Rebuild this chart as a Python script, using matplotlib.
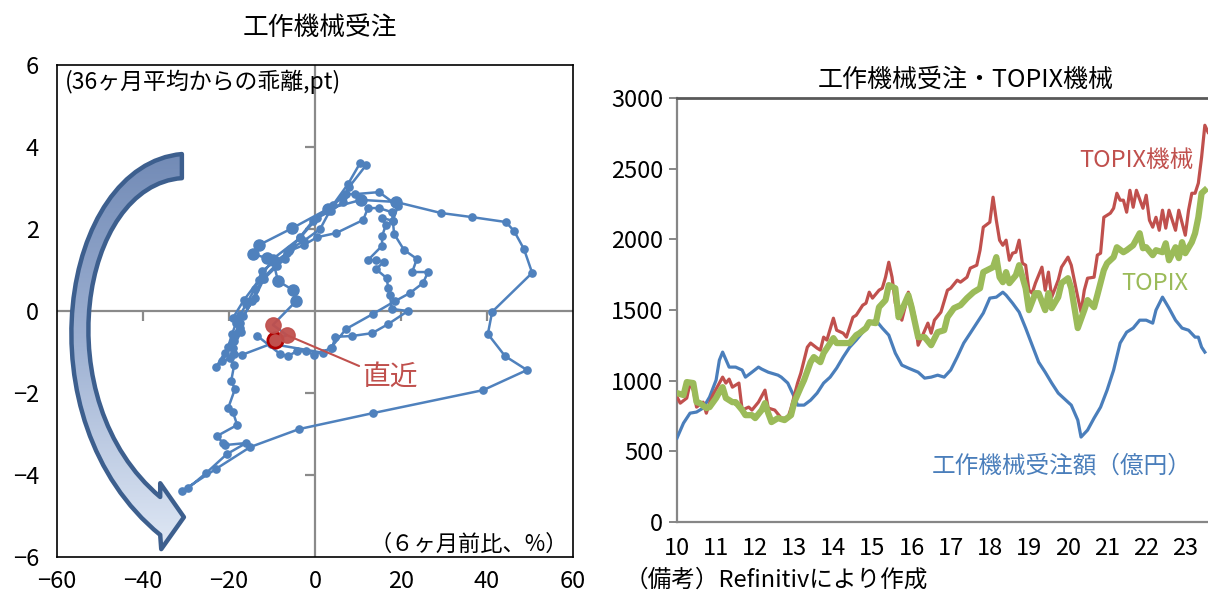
import numpy as np
import matplotlib
matplotlib.use("Agg")
import matplotlib.pyplot as plt
from matplotlib.path import Path
from matplotlib.patches import PathPatch
from matplotlib.colors import LinearSegmentedColormap
from matplotlib.markers import TICKDOWN, TICKLEFT

plt.rcParams["font.family"] = ["Noto Sans CJK JP", "DejaVu Sans"]

BLUE = "#4f81bd"
RED = "#c0504d"
GREEN = "#9bbb59"
GRAY = "#8a8a8a"

# ---- 左図: 6ヶ月前比(%) と 36ヶ月平均からの乖離(pt) の軌跡
up_1 = [(-13.5, -0.60), (-8.1, -1.05), (-6.3, -1.10), (-4.2, -0.98), (-2.1, -0.98),
        (-0.2, -1.07), (4.0, -0.90), (4.7, -0.63), (8.6, -0.61), (13.3, -0.54),
        (17.0, -0.32), (21.6, 0.00), (17.9, 0.05), (17.4, 0.39), (17.0, 0.56),
        (16.7, 0.80), (14.2, 1.02), (16.0, 1.20), (14.2, 1.24), (12.3, 1.24),
        (15.6, 1.59), (15.6, 1.83), (16.5, 2.10), (15.6, 2.27), (18.1, 2.20),
        (17.9, 2.41), (14.9, 2.51), (12.3, 2.51)]
down_1 = [(11.2, 2.22), (4.9, 1.90), (0.5, 1.80), (-2.6, 1.61), (-6.0, 1.46),
          (-7.0, 1.27), (-8.8, 1.10), (-11.9, 0.78), (-14.0, 0.32), (-16.7, -0.12),
          (-17.9, -0.17), (-19.3, -0.56), (-20.2, -0.88), (-23.0, -1.37)]
up_2 = [(-18.8, -1.05), (-17.0, -1.07), (-10.2, -0.80), (1.9, -1.02), (3.7, -0.90),
        (7.2, -0.44), (13.5, -0.07), (18.6, 0.24), (22.1, 0.44), (25.1, 0.68),
        (26.3, 0.95), (22.6, 0.95), (23.7, 1.27), (20.7, 1.49), (18.4, 1.88),
        (18.1, 2.20), (19.3, 2.56), (14.9, 2.90), (9.3, 2.85)]
down_2 = [(7.2, 2.85), (6.5, 2.66), (3.7, 2.44), (0.5, 2.27), (-3.5, 1.78),
          (-9.8, 1.27), (-13.0, 0.76), (-16.5, 0.27), (-19.1, -0.17), (-17.4, -0.41),
          (-18.8, -0.73), (-21.6, -1.22)]
up_3 = [(-20.9, -1.02), (-17.4, -0.29), (-14.7, 0.24), (-12.3, 0.78), (-9.1, 1.12),
        (-5.8, 1.51), (-2.6, 1.71), (1.2, 2.00), (4.2, 2.59), (7.7, 3.10),
        (10.5, 3.61), (11.9, 3.56)]
down_3 = [(7.9, 3.02), (6.5, 2.78), (3.3, 2.51), (-0.5, 2.20), (-3.5, 1.80),
          (-6.5, 1.41), (-12.3, 0.98), (-14.0, 0.54), (-16.0, 0.17), (-17.4, -0.10),
          (-18.4, -0.29), (-17.2, -0.51), (-19.1, -0.90), (-19.8, -1.15), (-18.8, -1.32),
          (-19.5, -1.71), (-18.6, -1.90), (-20.2, -2.37), (-19.1, -2.46), (-18.1, -2.78),
          (-22.8, -3.05), (-21.4, -3.22), (-20.9, -3.27), (-16.0, -3.22), (-20.5, -3.49),
          (-25.3, -3.95), (-29.5, -4.32), (-30.9, -4.39)]
up_4 = [(-23.0, -3.85), (-15.1, -3.32), (-3.7, -2.88), (13.5, -2.49), (39.1, -1.93),
        (49.3, -1.44), (44.2, -1.10), (40.2, -0.56), (41.2, -0.02), (50.5, 0.93),
        (48.6, 1.51), (46.3, 1.95), (44.4, 2.17), (36.5, 2.29), (29.3, 2.39)]
recent = [(18.8, 2.66), (10.7, 2.71), (3.0, 2.49), (-5.3, 2.02), (-13.0, 1.61),
          (-14.4, 1.39), (-11.2, 1.29), (-9.8, 1.24), (-8.6, 0.73), (-5.1, 0.51),
          (-4.4, 0.24)]
latest = [(-9.8, -0.34), (-6.5, -0.59), (-9.3, -0.71)]

# ---- 右図: 月次 (2010年1月からの月数, 値)
orders_month = [0, 2, 4, 6, 8, 10, 12, 13, 14, 16, 18, 20, 21, 23, 25, 26, 28, 31, 32, 34,
                36, 37, 39, 41, 43, 45, 47, 49, 51, 53, 55, 57, 59, 61, 63, 65, 67, 69, 71, 74,
                76, 78, 80, 82, 84, 86, 88, 90, 92, 94, 96, 98, 100, 101, 103, 105, 107, 109,
                111, 113, 115, 117, 120, 121, 123, 124, 126, 128, 130, 132, 134, 136, 138, 140,
                142, 144, 146, 147, 149, 151, 153, 155, 157, 159, 160, 161, 162]
orders_val = [594, 700, 770, 778, 806, 884, 1004, 1145, 1202, 1096, 1096, 1075, 1025, 1060,
              1096, 1082, 1060, 1039, 1025, 983, 884, 827, 827, 862, 912, 983, 1025, 1089,
              1167, 1237, 1287, 1343, 1407, 1428, 1372, 1322, 1195, 1110, 1089, 1060, 1018,
              1025, 1039, 1025, 1075, 1167, 1266, 1336, 1407, 1478, 1584, 1591, 1626, 1605,
              1548, 1485, 1372, 1251, 1131, 1060, 983, 912, 848, 827, 721, 601, 650, 735, 813,
              933, 1075, 1266, 1343, 1372, 1428, 1428, 1407, 1499, 1591, 1513, 1428, 1372,
              1357, 1308, 1308, 1237, 1202]

topix_mach = [(0, 884), (1, 841), (3, 877), (4, 983), (5, 933), (6, 813), (8, 848), (9, 770),
              (10, 841), (11, 898), (13, 983), (14, 1025), (15, 983), (16, 1011), (17, 954),
              (19, 983), (20, 792), (22, 813), (23, 792), (25, 848), (27, 933), (28, 806),
              (30, 792), (32, 735), (34, 735), (35, 806), (37, 983), (38, 1053), (40, 1237),
              (41, 1266), (43, 1230), (44, 1216), (45, 1308), (46, 1287), (48, 1442),
              (49, 1357), (51, 1336), (52, 1308), (54, 1449), (55, 1463), (57, 1534),
              (58, 1548), (59, 1626), (60, 1584), (62, 1640), (63, 1654), (64, 1732),
              (65, 1838), (66, 1732), (67, 1548), (69, 1428), (70, 1520), (71, 1626),
              (72, 1548), (73, 1449), (74, 1251), (75, 1301), (77, 1407), (78, 1336),
              (79, 1428), (81, 1485), (83, 1640), (84, 1654), (86, 1711), (87, 1697),
              (89, 1732), (90, 1796), (92, 1817), (93, 1923), (94, 2086), (96, 2121),
              (97, 2298), (98, 2135), (99, 1994), (100, 1958), (101, 1994), (102, 1852),
              (103, 1902), (104, 1909), (105, 1994), (106, 1831), (107, 1817), (108, 1640),
              (109, 1619), (110, 1690), (112, 1803), (113, 1640), (114, 1768), (115, 1591),
              (117, 1711), (118, 1803), (120, 1874), (121, 1817), (123, 1591), (124, 1485),
              (125, 1640), (126, 1725), (128, 1732), (129, 1888), (130, 1902), (131, 2156),
              (133, 2185), (134, 2220), (135, 2326), (136, 2277), (137, 2277), (138, 2192),
              (139, 2347), (140, 2227), (141, 2347), (143, 2220), (144, 2312), (145, 2135),
              (146, 2086), (147, 2156), (148, 2064), (149, 2206), (150, 2079), (151, 2206),
              (153, 2064), (154, 2206), (156, 2029), (157, 2206), (158, 2326), (159, 2326),
              (160, 2397), (161, 2581), (162, 2807), (163, 2757)]

topix = [(0, 912), (2, 898), (3, 990), (5, 983), (6, 848), (7, 841), (9, 806), (10, 813),
         (12, 877), (13, 919), (14, 954), (15, 877), (17, 848), (18, 848), (20, 792),
         (21, 756), (23, 756), (24, 735), (26, 792), (27, 841), (28, 770), (29, 707),
         (31, 735), (33, 721), (35, 756), (36, 848), (38, 954), (39, 1004), (41, 1131),
         (42, 1167), (44, 1131), (45, 1195), (46, 1230), (48, 1301), (49, 1266), (51, 1266),
         (53, 1266), (55, 1322), (56, 1336), (58, 1372), (59, 1414), (61, 1407), (62, 1520),
         (64, 1570), (65, 1676), (67, 1654), (68, 1449), (69, 1499), (71, 1605), (72, 1520),
         (74, 1308), (76, 1308), (78, 1251), (80, 1343), (82, 1357), (83, 1449), (85, 1513),
         (87, 1534), (89, 1584), (91, 1626), (93, 1654), (94, 1768), (97, 1803), (98, 1874),
         (99, 1732), (100, 1697), (101, 1768), (102, 1690), (104, 1746), (105, 1817),
         (107, 1654), (108, 1499), (110, 1619), (111, 1619), (113, 1499), (114, 1619),
         (115, 1513), (117, 1591), (118, 1690), (120, 1725), (121, 1654), (123, 1372),
         (125, 1499), (126, 1570), (128, 1520), (129, 1605), (131, 1782), (132, 1831),
         (134, 1874), (135, 1944), (137, 1909), (138, 1923), (140, 1958), (142, 2043),
         (143, 1937), (144, 1944), (146, 1888), (147, 1923), (149, 1909), (150, 1972),
         (151, 1852), (153, 1944), (154, 1867), (155, 1980), (156, 1902), (158, 1980),
         (159, 2043), (160, 2156), (161, 2326), (162, 2347)]

year_ticks = list(range(2010, 2024))

W, H = 1208, 594
fig = plt.figure(figsize=(W / 100, H / 100), dpi=100, facecolor="white")


def month_to_year(m):
    return 2010 + np.asarray(m, dtype=float) / 12.0


# ------------------------------------------------------------------ 左図
ax = fig.add_axes([57 / W, 1 - 557 / H, 516 / W, 492 / H])

path_pts = up_1 + down_1 + up_2 + down_2 + up_3 + down_3 + up_4 + recent + latest
px, py = zip(*path_pts)
ax.plot(px, py, color=BLUE, lw=1.8, zorder=4, solid_joinstyle="round")
n_old = len(path_pts) - len(recent) - len(latest)
ax.plot(px[:n_old], py[:n_old], ls="none", marker="o", ms=5.2, color=BLUE, zorder=5)
rx, ry = zip(*recent)
ax.plot(rx, ry, ls="none", marker="o", ms=8, color=BLUE, zorder=5)

# 直近3ヶ月
lx, ly = zip(*latest)
ax.plot(lx[2], ly[2], ls="none", marker="o", ms=11, mfc=RED, mec="#b00000", mew=2, zorder=6)
ax.plot(lx[:2], ly[:2], ls="none", marker="o", ms=11, color=RED, alpha=0.95, zorder=7)
ax.annotate("直近", xy=latest[1], xytext=(10.9, -1.59), color=RED, fontsize=20,
            ha="left", va="center", zorder=8,
            arrowprops=dict(arrowstyle="-", color=RED, lw=1.5, shrinkA=0, shrinkB=0,
                            relpos=(0, 0.8)))

# 原点を通る軸線と目盛
ax.axhline(0, color=GRAY, lw=1.6, zorder=1)
ax.axvline(0, color=GRAY, lw=1.6, zorder=1)
ax.plot([-40, -20, 20, 40], [0] * 4, ls="none", marker=TICKDOWN, ms=7, mew=1.6,
        color=GRAY, zorder=1, clip_on=False)
ax.plot([0] * 4, [-4, -2, 2, 4], ls="none", marker=TICKLEFT, ms=7, mew=1.6,
        color=GRAY, zorder=1, clip_on=False)

# 回転方向の矢印
verts = [
    (0.242, 0.819), (0.006, 0.797), (-0.072, 0.278), (0.200, 0.045),
    (0.202, 0.016), (0.246, 0.081), (0.200, 0.150), (0.200, 0.122),
    (-0.023, 0.319), (0.045, 0.756), (0.242, 0.770), (0.242, 0.819),
]
codes = [Path.MOVETO, Path.CURVE4, Path.CURVE4, Path.CURVE4,
         Path.LINETO, Path.LINETO, Path.LINETO, Path.LINETO,
         Path.CURVE4, Path.CURVE4, Path.CURVE4, Path.CLOSEPOLY]
arrow = PathPatch(Path(verts, codes), transform=ax.transAxes, facecolor="none",
                  edgecolor="#3d5f8e", lw=3.2, joinstyle="round", zorder=3)
ax.add_patch(arrow)
grad = np.linspace(0, 1, 256).reshape(-1, 1)
cmap = LinearSegmentedColormap.from_list("arrow_fill", ["#6f88b4", "#9fb2d3", "#e2eaf6"])
im = ax.imshow(grad, cmap=cmap, extent=[0.0, 0.3, 0.0, 0.85], transform=ax.transAxes,
               aspect="auto", origin="upper", zorder=2.5, interpolation="bilinear")
im.set_clip_path(arrow)

ax.set_xlim(-60, 60)
ax.set_ylim(-6, 6)
ax.set_xticks(range(-60, 61, 20))
ax.set_yticks(range(-6, 7, 2))
ax.tick_params(axis="y", length=0, labelsize=17, pad=13)
ax.tick_params(axis="x", length=0, labelsize=17, pad=9)
for s in ax.spines.values():
    s.set_color("black")
    s.set_linewidth(1.2)

fig.text(320 / W, 1 - 28 / H, "工作機械受注", fontsize=18.5, ha="center", va="center")
fig.text(65 / W, 1 - 82 / H, "(36ヶ月平均からの乖離,pt)", fontsize=16.5, ha="left", va="center")
fig.text(568 / W, 1 - 544 / H, "（６ヶ月前比、%）", fontsize=16, ha="right", va="center")

# ------------------------------------------------------------------ 右図
ax2 = fig.add_axes([677 / W, 1 - 522 / H, 14 * 39.1 / W, 424 / H])

ax2.plot(month_to_year(orders_month), orders_val, color="#4a7ebb", lw=2.3, zorder=3)
tm, tv = zip(*topix_mach)
ax2.plot(month_to_year(tm), tv, color=RED, lw=2.3, zorder=4)
gm, gv = zip(*topix)
ax2.plot(month_to_year(gm), gv, color=GREEN, lw=4.5, zorder=5, solid_joinstyle="round")

ax2.set_xlim(2010, 2024)
ax2.set_ylim(0, 3000)
ax2.set_yticks(range(0, 3001, 500))
ax2.set_xticks(year_ticks)
ax2.set_xticklabels([f"{y % 100}" for y in year_ticks])
ax2.tick_params(axis="x", length=0, labelsize=17, pad=11)
ax2.tick_params(axis="y", length=6, width=1.4, color="#868686", labelsize=17, pad=4)
ax2.spines["right"].set_visible(False)
ax2.spines["top"].set_color("#595959")
ax2.spines["top"].set_linewidth(2)
for side in ("left", "bottom"):
    ax2.spines[side].set_color("#868686")
    ax2.spines[side].set_linewidth(1.6)

ax2.text(2021.74, 2560, "TOPIX機械", color=RED, fontsize=17, ha="center", va="center")
ax2.text(2022.22, 1690, "TOPIX", color=GREEN, fontsize=17, ha="center", va="center")
ax2.text(2019.85, 396, "工作機械受注額（億円）", color="#4a7ebb", fontsize=17,
         ha="center", va="center")

fig.text(966 / W, 1 - 80 / H, "工作機械受注・TOPIX機械", fontsize=18, ha="center", va="center")
fig.text(625 / W, 1 - 580 / H, "（備考）Refinitivにより作成", fontsize=17, ha="left", va="center")

fig.savefig("out.png", dpi=100, facecolor="white")
